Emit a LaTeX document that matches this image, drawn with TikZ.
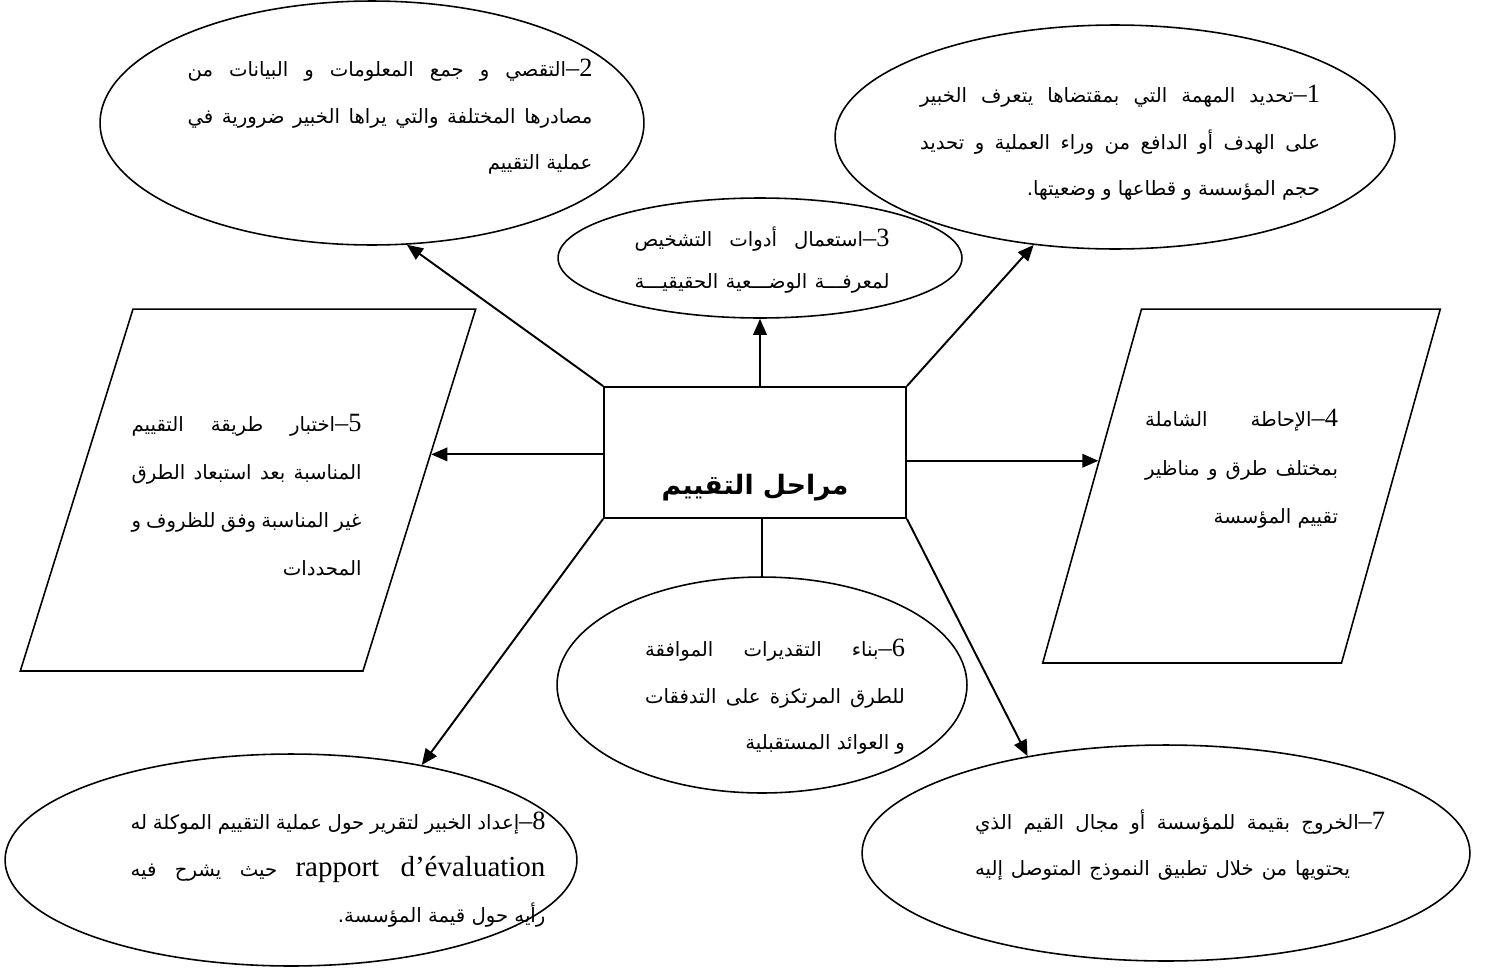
\documentclass[tikz,border=0pt]{standalone}
\usepackage{fontspec}
\usetikzlibrary{shapes.geometric, arrows.meta, positioning, calc}
\TeXXeTstate=1
\newfontfamily\arabicfont[Script=Arabic]{DejaVu Sans}
\newfontfamily\latinfont{Liberation Serif}

\newcommand{\arabsize}{\arabicfont\fontsize{11.2}{26.5}\selectfont}
\newcommand{\jline}[2]{\hbox to #1{#2}}
\newcommand{\stepno}[1]{{\latinfont\fontsize{15}{26}\selectfont #1}\kern0pt{\latinfont\fontsize{15}{26}\selectfont –}\kern0pt}

\tikzset{
  stage/.style={
    ellipse, draw, line width=0.9pt, inner sep=0pt
  },
  slanted/.style={
    trapezium, draw, line width=0.9pt, inner sep=0pt, text depth=0pt
  },
  mainbox/.style={
    rectangle, draw, line width=1.1pt,
    minimum width=6.04cm, minimum height=2.62cm
  },
  stagetext/.style={font=\arabsize, inner sep=0pt, align=right},
  arrow/.style={-{Triangle[length=0.32cm, width=0.27cm]}, line width=1.1pt},
  line/.style={draw, line width=1.1pt},
}

\begin{document}
\begin{tikzpicture}[x=0.02cm, y=-0.02cm]
  \useasboundingbox (0,0) rectangle (1497,967);

  %% Centre
  \node[mainbox] (box) at (755,452.5) {};
  \node[font=\arabicfont\bfseries\fontsize{15.2}{20}\selectfont]
  (title) at ([yshift=-0.71cm]box.center) {\beginR مراحل التقييم\endR};

  %% Top row
  \node[stage, minimum width=10.88cm, minimum height=4.88cm] (est2) at (372,123) {};
  \node[stagetext] (txt2) at (390,117) {%
    \jline{8.1cm}{\beginR\stepno{2}التقصي و جمع المعلومات و البيانات من\endR}\\
    \jline{8.1cm}{\beginR مصادرها المختلفة والتي يراها الخبير ضرورية في\endR}\\
    \beginR عملية التقييم\endR};

  \node[stage, minimum width=11.2cm, minimum height=4.48cm] (est1) at (1115,137) {};
  \node[stagetext] (txt1) at (1120,143) {%
    \jline{8.0cm}{\beginR\stepno{1}تحديد المهمة التي بمقتضاها يتعرف الخبير\endR}\\
    \jline{8.0cm}{\beginR على الهدف أو الدافع من وراء العملية و تحديد\endR}\\
    \beginR حجم المؤسسة و قطاعها و وضعيتها.\endR};

  \node[stage, minimum width=8.08cm, minimum height=2.4cm] (est3) at (760,258) {};
  \node[stagetext, font=\arabicfont\fontsize{11.2}{24}\selectfont] (txt3) at (762,260) {%
    \jline{5.1cm}{\beginR\stepno{3}استعمال أدوات التشخيص\endR}\\
    \jline{5.1cm}{\beginR لمعرفـــة الوضـــعية الحقيقيـــة\endR}};

  %% Side blocks
  \node[slanted, trapezium left angle=72.7, trapezium right angle=107.3,
    text width=4.6cm, text height=7.24cm] (par5) at (248,490) {};
  \node[stagetext, font=\arabicfont\fontsize{11.2}{27.3}\selectfont] (txt5) at (246.5,495) {%
    \jline{4.6cm}{\beginR\stepno{5}اختبار طريقة التقييم\endR}\\
    \jline{4.6cm}{\beginR المناسبة بعد استبعاد الطرق\endR}\\
    \jline{4.6cm}{\beginR غير المناسبة وفق للظروف و\endR}\\
    \beginR المحددات\endR};

  \node[slanted, trapezium left angle=74.4, trapezium right angle=105.6,
    text width=4.0cm, text height=7.08cm] (par4) at (1241.5,486) {};
  \node[stagetext, font=\arabicfont\fontsize{11.2}{27.6}\selectfont] (txt4) at (1241.5,469) {%
    \jline{3.86cm}{\beginR\stepno{4}الإحاطة الشاملة\endR}\\
    \jline{3.86cm}{\beginR بمختلف طرق و مناظير\endR}\\
    \beginR تقييم المؤسسة\endR};

  %% Bottom row
  \node[stage, minimum width=8.2cm, minimum height=4.32cm] (est6) at (762,685) {};
  \node[stagetext] (txt6) at (775,697) {%
    \jline{5.2cm}{\beginR\stepno{6}بناء التقديرات الموافقة\endR}\\
    \jline{5.2cm}{\beginR للطرق المرتكزة على التدفقات\endR}\\
    \beginR و العوائد المستقبلية\endR};

  \node[stage, minimum width=11.44cm, minimum height=4.24cm] (est8) at (291,860) {};
  \node[stagetext] (txt8) at (338,870) {%
    \jline{8.3cm}{\beginR\stepno{8}إعداد الخبير لتقرير حول عملية التقييم الموكلة له\endR}\\
    \jline{8.3cm}{\beginR\beginL{\latinfont\fontsize{16.5}{26}\selectfont rapport d’évaluation}\endL{} حيث يشرح فيه\endR}\\
    \beginR رأيه حول قيمة المؤسسة.\endR};

  \node[stage, minimum width=12.16cm, minimum height=4.32cm] (est7) at (1166,853) {};
  \node[stagetext, align=left] (txt7) at (1180,845) {%
    \jline{8.2cm}{\beginR\stepno{7}الخروج بقيمة للمؤسسة أو مجال القيم الذي\endR}\\
    \jline{7.5cm}{\beginR يحتويها من خلال تطبيق النموذج المتوصل إليه\endR}};

  %% Arrows
  \foreach \from/\to in {box.north west/est2.-74, box.north east/est1.-127,
      box.south west/est8.36, box.south east/est7.145}
  \draw[arrow] (\from) -- (\to);
  \draw[arrow] (box.north -| est3.south) -- (est3.south);
  \draw[arrow] (box.west |- par5.11) -- (par5.11);
  \draw[arrow] (box.east |- par4.170) -- (par4.170);
  \draw[line] (box.south -| est6.north) -- (est6.north);

\end{tikzpicture}
\end{document}
